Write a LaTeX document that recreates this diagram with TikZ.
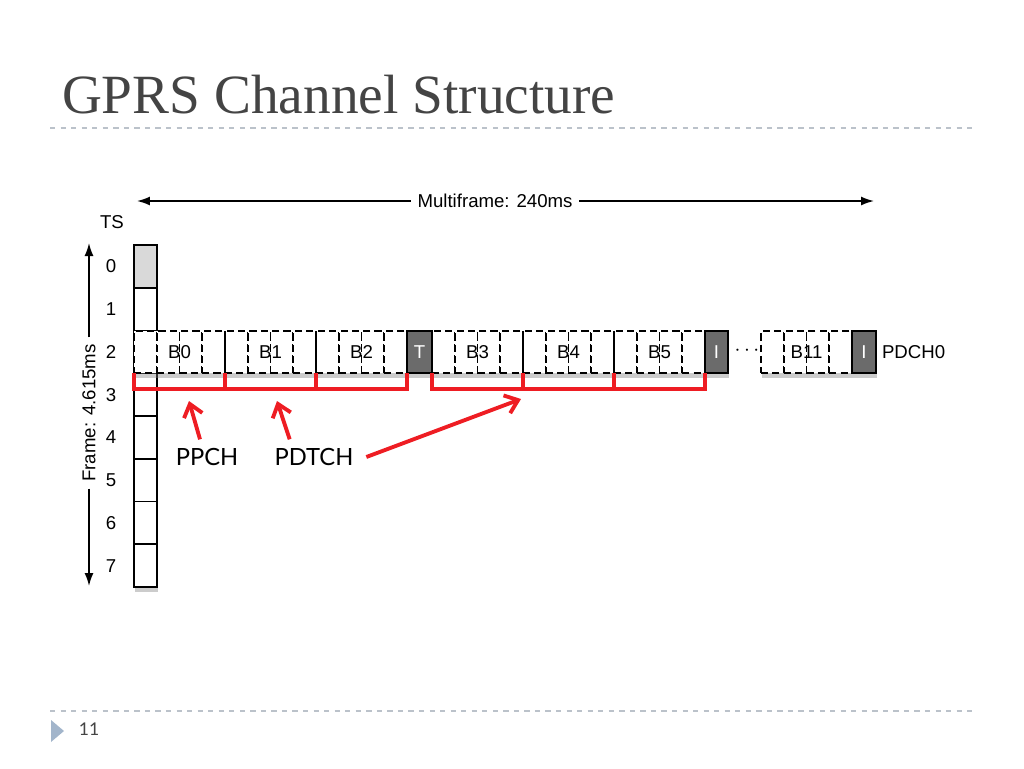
\documentclass[tikz,border=0pt]{standalone}
\usepackage{fontspec}
\setmainfont{Liberation Sans}
\newfontfamily\titlefont{Liberation Serif}
\newfontfamily\gillfont{Lato}
\usetikzlibrary{arrows.meta,shadows,positioning}
\definecolor{chred}{HTML}{EE1D23}
\definecolor{titlegray}{HTML}{444444}
\definecolor{rulegray}{HTML}{BBC2CA}
\definecolor{navblue}{HTML}{A2B5CB}
\definecolor{idlegray}{HTML}{6B6B6B}
\definecolor{ts0gray}{HTML}{D9D9D9}

\begin{document}
\begin{tikzpicture}[
    x=0.02cm, y=-0.02cm,
    every node/.style={inner sep=0pt, outer sep=0pt},
    txt/.style={font=\fontsize{10.6}{12}\selectfont},
    shade box/.style={drop shadow={shadow xshift=0.8pt, shadow yshift=-3pt, opacity=0.4}},
    slot/.style={draw, line width=1pt, fill=white, minimum width=0.46cm, minimum height=0.855cm, shade box},
    cell/.style={draw, dash pattern=on 4pt off 2.4pt, line width=1pt, fill=white, minimum width=0.455cm, minimum height=0.84cm, shade box},
    idle/.style={draw, line width=1pt, fill=idlegray, text=white, minimum width=0.46cm, minimum height=0.84cm, txt, shade box},
    bracket/.style={draw=chred, line width=2pt},
    pointer/.style={draw=chred, line width=2.2pt, -{Straight Barb[length=0.24cm,width=0.38cm]}},
    dim/.style={line width=0.9pt, -{Latex[length=0.26cm,width=0.18cm]}},
    rule/.style={draw=rulegray, dashed, line width=0.6pt}
]
\useasboundingbox (0,0) rectangle (1024,768);

\node[anchor=base west, text=titlegray, font=\titlefont\fontsize{31.5}{34}\selectfont] (title) at (62,113) {GPRS Channel Structure};
\draw[rule] (50,128) -- (972,128);
\draw[rule] (50,711) -- (972,711);
\fill[navblue] (51,720) -- (64,731) -- (51,742) -- cycle;
\node[text=titlegray, font=\gillfont\fontsize{10}{12}\selectfont] (pagenum) at (89,729) {11};

\node[txt, inner xsep=4pt] (mf) at (495,201) {Multiframe: 240ms};
\coordinate (mfl) at (137,201);
\coordinate (mfr) at (874,201);
\draw[dim] (mf.west) -- (mfl);
\draw[dim] (mf.east) -- (mfr);

\node[txt] (ts) at (112,222) {TS};
\foreach \i in {0,...,7}{
    \node[slot] (ts\i) at (145.5,266.4+42.75*\i) {};
    \node[txt] (tl\i) at (111,266.4+42.75*\i) {\i};
}
\fill[ts0gray] ([shift={(0.5pt,-0.5pt)}]ts0.north west) rectangle ([shift={(-0.5pt,0.5pt)}]ts0.south east);

\node[txt, rotate=90, inner xsep=4pt] (frame) at (89,413) {Frame: 4.615ms};
\coordinate (ftop) at (89,243);
\coordinate (fbot) at (89,586);
\draw[dim] (frame.east) -- (ftop);
\draw[dim] (frame.west) -- (fbot);

\foreach \b/\x in {B0/134,B1/225,B2/316,B3/432,B4/523,B5/614,B11/761}{
    \foreach \j in {0,...,3}
        \node[cell] (\b-\j) at (\x+11.375+22.75*\j,352) {};
    \node[txt] (\b) at (\x+45.5,352) {\b};
}
\foreach \b in {B1,B2,B4,B5}
    \draw[line width=1.4pt] (\b-0.north west) -- (\b-0.south west);
\node[idle, minimum width=0.5cm] (T) at (419.5,352) {T};
\node[idle] (I1) at (716.5,352) {I};
\node[idle, minimum width=0.48cm] (I2) at (864,352) {I};
\node[font=\fontsize{13}{13}\selectfont] (dots) at (747,351) {$\cdots$};
\node[txt, right=0.12cm of I2] (pdch) {PDCH0};

\draw[bracket] (B0-0.south west) -- ++(0,16) -| (B2-3.south east);
\draw[bracket] (B3-0.south west) -- ++(0,16) -| (B5-3.south east);
\foreach \b in {B1,B2,B4,B5}
    \draw[bracket] (\b-0.south west) -- ++(0,16);

\node[font=\gillfont\fontsize{13.5}{16}\selectfont] (ppch) at (207,457) {PPCH};
\node[font=\gillfont\fontsize{13.5}{16}\selectfont] (pdtch) at (314,457) {PDTCH};
\coordinate (ppchtip) at (189,401);
\coordinate (pdtchtip) at (277,401);
\coordinate (b4tip) at (521,399);
\draw[pointer] ([shift={(-7,-9)}]ppch.north) -- (ppchtip);
\draw[pointer] ([shift={(15,-9)}]pdtch.north west) -- (pdtchtip);
\draw[pointer] ([shift={(13,0)}]pdtch.east) -- (b4tip);
\end{tikzpicture}
\end{document}
